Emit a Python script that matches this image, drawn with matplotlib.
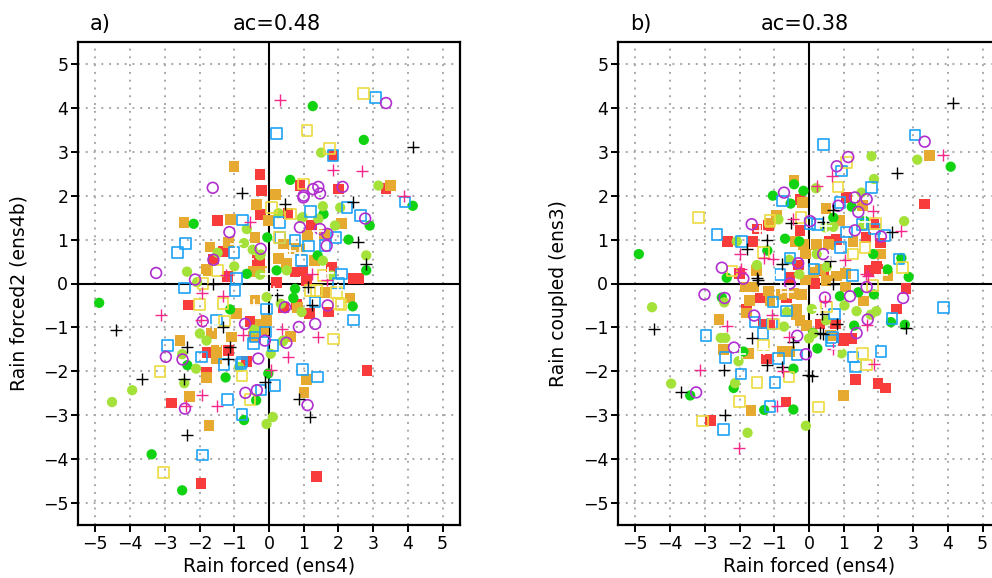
import matplotlib
matplotlib.use("Agg")
import matplotlib.pyplot as plt

# ---- data: (x, y) pairs per ensemble member ----
# panel a: Rain forced (ens4) vs Rain forced2 (ens4b)
A_RED = [(-0.26,2.48),(-0.21,2.11),(-0.24,1.57),(-1.48,1.43),(-1.32,0.73),(-1.60,0.54),(-0.28,0.48),(-1.19,0.16),
         (1.84,2.91),(0.89,2.23),(2.00,2.15),(3.37,2.17),(1.23,1.32),(1.81,0.37),(2.43,0.11),(2.57,0.11),(0.96,0.30),
         (-2.31,-0.49),(-1.77,-1.58),(-1.17,-1.52),(-0.64,-1.77),(-1.80,-2.02),(-2.80,-2.72),(-1.96,-4.55),(1.16,-0.69),
         (1.71,-0.65),(2.82,-1.98),(1.37,-4.39),(0.55,1.60),(-0.34,0.52),(0.75,0.26),(0.22,0.03),(1.09,0.07),
         (0.41,-0.54),(0.80,-0.48),(-0.55,-0.87)]
A_GOLD = [(-1.01,2.66),(-0.35,1.80),(-2.45,1.39),(-1.10,1.46),(-1.70,0.83),(-1.17,0.94),(-0.40,1.05),(-1.76,0.30),
          (-0.45,0.28),(-0.20,0.28),(3.50,2.23),(0.18,2.02),(2.09,1.37),(1.59,1.11),(1.11,1.09),(0.41,0.90),(1.30,0.52),
          (0.51,0.45),(0.28,0.57),(0.89,0.77),(-1.65,-1.14),(-2.56,-1.30),(-1.51,-1.52),(-1.51,-1.70),(-1.80,-2.14),
          (-2.28,-2.58),(-1.73,-3.24),(0.83,-0.54),(0.61,-1.20),(2.33,-0.33),(1.61,-0.20),(1.09,-2.18),(1.01,-2.49),
          (-0.02,1.43),(0.70,0.79),(-1.80,0.33),(-0.93,-0.69),(-0.40,-0.39),(-0.26,-0.92),(-0.07,-0.84),(-0.16,-1.05),
          (-0.45,-1.20),(-1.08,-1.22)]
A_GREEN = [(-2.17,1.36),(-0.64,0.22),(1.26,4.04),(2.73,3.27),(0.61,2.36),(4.14,1.77),(2.90,1.32),(1.57,1.58),
           (2.29,1.00),(2.80,0.30),(1.40,0.64),(-4.89,-0.44),(-1.12,-0.59),(-2.35,-1.86),(-1.25,-2.14),(-0.37,-2.66),
           (-0.72,-3.11),(-3.38,-3.89),(-2.50,-4.71),(2.41,-0.52),(0.70,-0.33),(-0.05,1.05),(0.22,0.30),(0.75,-0.12),
           (-0.02,-2.05)]
A_LIME = [(-1.48,0.70),(-0.72,0.92),(-0.47,0.77),(-0.24,0.66),(-2.36,0.27),(-1.00,0.39),(-2.07,0.03),(1.50,2.98),
          (3.15,2.23),(2.05,1.73),(0.27,1.60),(1.55,1.76),(0.97,1.51),(1.42,1.47),(1.90,1.32),(2.80,0.64),(1.55,0.52),
          (0.51,0.30),(-1.99,-1.14),(-2.50,-1.61),(-2.10,-1.94),(-3.94,-2.43),(-4.52,-2.70),(-2.44,-2.27),(-0.07,-3.20),
          (0.39,-1.32),(0.05,-1.60),(0.34,-0.46),(0.11,-3.04),(0.94,1.49),(-0.64,1.24),(-0.26,0.64),(1.80,0.18),
          (-0.26,0.20),(-0.07,-0.31),(0.94,-0.65),(-0.86,-1.90),(-0.43,-1.05),(0.41,-1.30),(-1.80,-1.30)]
A_BLUE = [(-0.76,1.45),(-2.41,0.91),(-2.64,0.71),(-1.01,0.70),(-2.44,-0.10),(0.22,3.42),(3.07,4.23),(3.92,1.86),
          (2.25,1.73),(2.64,1.55),(1.20,1.64),(1.93,1.05),(0.30,1.39),(0.75,0.98),(1.13,0.85),(1.61,0.86),(0.94,0.52),
          (2.09,0.22),(-0.98,-0.16),(-1.51,-0.83),(-2.93,-1.41),(-1.95,-1.67),(-1.29,-1.85),(-0.81,-1.83),(-1.20,-2.64),
          (-0.23,-2.43),(-0.78,-2.98),(-1.92,-3.91),(2.43,-0.83),(1.33,-0.42),(0.12,-1.41),(0.97,-1.96),(1.39,-2.13),
          (0.17,-2.32),(1.84,2.91),(0.32,1.05),(2.00,0.00),(-0.93,0.11),(-0.07,-0.58),(-0.45,-1.37),(-0.10,-1.10),
          (-0.40,-1.22),(-0.78,-1.79)]
A_YELLOW = [(-1.48,0.30),(-1.90,0.00),(2.72,4.33),(1.10,3.48),(1.74,3.08),(0.99,2.27),(0.62,1.58),(0.30,1.05),
            (1.56,0.18),(-2.00,-0.48),(-3.14,-2.00),(-0.78,-2.11),(-0.55,-2.64),(-3.04,-4.31),(1.85,-1.26),(2.07,-0.48),
            (1.95,-0.20),(0.08,1.73),(1.37,-0.16),(-1.32,-0.46),(-1.28,-0.85),(1.18,-0.16),(2.00,-0.46)]
A_PURPLE = [(-1.62,2.18),(-1.14,1.17),(-0.24,0.79),(-1.60,0.54),(-3.25,0.24),(-2.13,0.09),(3.37,4.11),(1.27,2.15),
            (1.42,2.20),(1.47,2.05),(1.00,2.00),(2.12,2.20),(2.77,1.48),(0.99,1.96),(0.89,1.28),(1.47,1.24),(1.68,1.13),
            (-1.91,-0.86),(-2.97,-1.67),(-2.49,-1.73),(-2.42,-2.85),(-0.68,-2.49),(0.86,-0.99),(1.33,-0.92),(0.50,-1.35),
            (1.69,-0.50),(1.11,-2.77),(1.66,0.86),(0.46,-0.54),(-0.31,-1.71),(-0.35,-2.43),(-0.12,-1.30),(-0.69,-0.92)]
A_BLACK = [(-0.78,2.06),(-1.60,-0.01),(4.16,3.10),(0.46,1.81),(2.43,1.85),(2.57,0.94),(2.80,0.44),(-4.42,-1.05),
           (-2.37,-1.45),(-1.19,-1.72),(-3.65,-2.18),(-2.45,-2.17),(-2.36,-3.44),(0.87,-2.62),(1.18,-3.05),(0.22,-0.27),
           (1.23,-0.50),(1.13,-0.08),(-0.12,-2.24),(-1.12,-1.45),(-1.32,-0.99)]
A_MAGENTA = [(-0.55,1.39),(0.32,4.18),(1.84,2.58),(2.69,2.57),(3.90,2.00),(1.23,0.22),(-3.12,-0.71),(-1.92,-0.21),
             (-1.33,-0.29),(-1.95,-0.84),(-2.40,-2.80),(-1.94,-2.54),(-1.49,-2.79),(1.42,-1.22),(0.56,-1.67),(0.05,-1.98),
             (1.66,0.07),(0.37,-1.03),(-0.74,-1.18),(-1.25,0.20)]
A_WHITE = [(0.61,0.75),(0.90,0.70),(-0.10,0.22),(-0.60,0.56),(-0.43,-0.50),(1.70,0.25),(2.00,-0.15),(-1.40,-1.30),
           (0.15,-0.20),(-0.95,0.90),(1.40,1.20),(-1.60,-0.95)]

# panel b: Rain forced (ens4) vs Rain coupled (ens3)
B_RED = [(3.33,1.81),(2.79,-0.11),(2.52,-0.58),(2.21,-2.38),(1.99,-2.27),(1.34,-2.19),(-0.66,-2.70),(-2.83,-3.12),
         (-1.22,-1.72),(-2.34,0.96),(-1.63,0.96),(-1.50,1.24),(-2.00,0.23),(-1.79,-0.58),(-1.31,-0.92),(-1.14,-0.92),
         (0.94,-1.24),(1.23,-1.25),(0.99,-1.29),(0.77,-0.92),(0.32,-0.92),(1.94,0.40),(1.73,0.29),(2.06,0.92),
         (1.64,1.04),(1.85,1.34),(1.08,1.95),(0.60,0.96),(0.80,1.00),(-0.26,1.92),(-0.26,1.21),(-0.55,0.13),
         (-0.31,0.42),(-1.41,-0.33),(-0.64,-0.33),(0.41,0.29),(0.17,0.00),(-1.17,1.32),(1.99,0.33)]
B_GOLD = [(3.48,2.92),(-0.43,2.34),(-0.19,1.84),(-0.93,1.56),(-1.12,1.38),(0.49,1.70),(0.89,1.44),(1.54,1.78),
          (1.27,0.96),(0.56,0.88),(0.22,0.88),(-0.40,0.96),(-0.16,0.88),(2.07,0.67),(2.26,0.17),(1.58,-0.40),
          (1.06,-0.08),(1.06,0.23),(0.80,0.17),(0.49,0.07),(0.34,0.32),(0.12,0.25),(-0.11,0.08),(-1.52,0.29),
          (-1.84,-0.08),(-1.60,-0.08),(-1.71,-0.38),(-1.17,-0.17),(-1.12,-0.38),(-0.79,-0.25),(-0.45,-0.23),
          (-0.21,-0.25),(-0.35,-0.58),(-0.37,-0.71),(-0.26,-0.84),(-0.07,-0.96),(-1.79,-0.67),(-2.59,-0.82),
          (-2.46,-1.50),(-1.74,-1.60),(-0.76,-1.55),(-0.55,-1.55),(0.62,-1.19),(0.99,-2.55),(-1.67,-2.90),(-0.11,0.67)]
B_GREEN = [(4.08,2.66),(-4.90,0.67),(-2.37,0.13),(-2.51,-0.32),(-3.42,-2.55),(-2.17,-2.38),(-1.89,-1.55),(-1.29,-2.88),
           (-0.45,-2.87),(-0.45,-1.94),(0.24,-1.48),(0.12,-1.13),(1.30,-0.96),(2.36,-0.88),(2.76,-0.94),(2.87,0.15),
           (2.66,0.58),(1.85,0.67),(1.61,1.42),(1.23,1.75),(-0.16,2.11),(-0.43,2.26),(-1.04,2.00),(-0.53,1.82),
           (-1.20,0.75),(0.89,-0.29),(1.87,-0.25),(-0.28,0.96),(2.26,0.32),(0.70,1.50),(-0.69,1.02),(1.42,-0.20)]
B_LIME = [(3.12,2.82),(1.80,2.90),(1.87,2.38),(2.74,1.42),(1.51,2.07),(0.20,2.17),(-4.52,-0.54),(-3.97,-2.28),
          (-1.77,-3.40),(-0.09,-3.24),(-2.13,-2.27),(-2.41,-1.24),(-2.54,-1.24),(-2.44,-0.43),(-2.03,-1.77),
          (0.94,-1.59),(1.78,-0.71),(1.94,-0.63),(1.02,-0.50),(1.37,-0.63),(-0.72,-0.98),(0.08,-0.58),(-0.57,0.54),
          (-0.28,0.21),(0.22,0.67),(0.51,0.38),(-1.50,0.42),(-2.08,0.96),(-0.88,1.46),(0.70,1.29),(0.00,-1.25),
          (0.12,-1.14),(0.49,-0.84),(-0.64,-0.65),(0.46,1.28),(1.56,1.32)]
B_BLUE = [(3.05,3.38),(0.41,3.16),(0.94,2.56),(1.80,2.19),(0.89,1.85),(-0.76,1.88),(-2.65,1.11),(-1.95,0.96),
          (-2.96,-1.19),(-2.41,-1.69),(-1.96,-2.06),(-0.98,-2.26),(-1.12,-2.80),(-2.46,-3.32),(-1.33,-1.14),
          (-1.07,-0.92),(-1.55,-0.88),(-0.88,-1.71),(-0.35,-1.63),(-0.64,-0.63),(-1.04,-0.42),(0.73,-0.69),
          (0.68,-1.23),(1.27,-1.67),(1.34,-1.90),(2.07,-1.55),(2.39,-0.80),(3.88,-0.55),(2.59,0.56),(2.17,1.09),
          (1.88,1.24),(1.53,1.34),(1.08,1.17),(0.91,0.82),(1.25,0.18),(0.03,1.37),(0.24,1.35),(-0.55,0.58),
          (-0.83,0.21),(0.15,0.33),(0.65,-1.30)]
B_YELLOW = [(-3.18,1.50),(0.84,2.20),(1.08,2.76),(-0.23,1.50),(-1.31,0.71),(-2.22,0.28),(2.69,0.36),(1.83,-0.04),
            (1.27,0.67),(1.61,0.82),(1.54,-1.60),(1.66,-1.86),(0.27,-2.81),(-0.57,-2.13),(-1.50,-2.26),(-2.00,-2.69),
            (-1.31,-1.40),(-3.06,-3.13),(-1.02,-0.92),(0.51,-0.54),(-1.12,1.43),(1.92,1.36)]
B_PURPLE = [(3.33,3.23),(1.13,2.88),(0.80,2.67),(-0.72,2.07),(-1.65,1.35),(-2.51,0.36),(-3.01,-0.25),(-3.25,-2.48),
            (-2.16,-1.46),(-0.34,-1.19),(-0.09,-1.61),(1.37,-1.13),(1.69,-0.82),(2.71,-0.33),(1.66,-0.08),(2.07,1.07),
            (1.32,1.96),(1.66,1.92),(1.42,1.63),(-0.55,0.00),(0.46,-0.32),(0.41,0.67),(-0.31,0.46),(0.03,1.42),
            (1.32,1.21),(1.18,-0.29),(-2.43,-0.33),(-1.58,-0.73),(-1.89,0.11),(0.84,1.77)]
B_BLACK = [(4.15,4.11),(2.52,2.52),(-4.47,-1.03),(-3.68,-2.46),(-2.42,-3.00),(-2.46,-1.98),(-1.63,-1.25),(-1.22,-1.86),
           (-0.77,-1.90),(-0.46,-1.34),(-0.02,-2.09),(0.08,-2.10),(0.32,-1.13),(0.36,-0.69),(0.80,-0.92),(2.79,-1.02),
           (2.40,1.17),(-1.22,1.00),(-1.79,0.79),(-1.50,0.13),(-0.79,0.44),(-0.52,1.38),(0.60,0.52),(0.70,1.67),
           (0.70,0.00),(-1.46,0.07),(0.41,1.39),(0.39,-1.14)]
B_MAGENTA = [(3.86,2.92),(2.66,1.19),(1.83,1.65),(0.65,2.44),(1.64,0.21),(1.66,-0.94),(1.87,-1.84),(0.70,-1.50),
             (-0.57,-1.21),(-0.76,-2.00),(-1.07,-0.71),(-2.01,-3.74),(-3.13,-1.96),(-2.37,-0.96),(-1.98,0.67),
             (-1.95,0.33),(-1.31,0.58),(-0.45,1.46),(0.22,2.21),(-0.93,-2.80),(-1.04,0.56),(-1.98,0.26),(1.70,0.18),
             (1.03,0.54),(0.46,-0.39)]
B_WHITE = [(0.50,1.30),(-0.80,-0.10),(0.60,0.65),(-1.00,0.20),(0.80,-1.50),(1.60,1.40),(-2.00,-1.60),(-0.60,-0.20),
           (0.30,-0.60),(-1.40,1.20),(2.10,0.20),(-1.30,-1.50)]

TICKS = [-5, -4, -3, -2, -1, 0, 1, 2, 3, 4, 5]

# marker styles, same order as the series lists
STYLES = [
    dict(marker='s', s=60, c='#f83c3c', edgecolors='none'),
    dict(marker='s', s=60, c='#e6aa30', edgecolors='none'),
    dict(marker='o', s=55, c='#12d312', edgecolors='none'),
    dict(marker='o', s=55, c='#a4e23a', edgecolors='none'),
    dict(marker='s', s=58, facecolors='none', edgecolors='#1ea2f4', linewidths=1.2),
    dict(marker='s', s=58, facecolors='none', edgecolors='#ecdc40', linewidths=1.2),
    dict(marker='o', s=60, facecolors='none', edgecolors='#b02ed0', linewidths=1.2),
    dict(marker='+', s=80, c='black', linewidths=1.0),
    dict(marker='+', s=80, c='#f5288a', linewidths=1.0),
    dict(marker='+', s=80, c='white', linewidths=1.2),
]


def panel(ax, series, tag, ac, ylabel, title_x):
    ax.set_xlim(-5.5, 5.5)
    ax.set_ylim(-5.5, 5.5)
    ax.set_xticks(TICKS)
    ax.set_yticks(TICKS)
    ax.set_axisbelow(True)
    ax.grid(True, color='#a8a8a8', linestyle=(0, (1, 3)), linewidth=1.4)
    ax.axhline(0, color='black', lw=1.5, zorder=1.5)
    ax.axvline(0, color='black', lw=1.5, zorder=1.5)
    for pts, st in zip(series, STYLES):
        xs = [p[0] for p in pts]
        ys = [p[1] for p in pts]
        ax.scatter(xs, ys, zorder=3, **st)
    for sp in ax.spines.values():
        sp.set_linewidth(1.6)
    ax.tick_params(direction='out', length=5, width=1.4, labelsize=12.5, pad=2)
    ax.set_xlabel('Rain forced (ens4)', fontsize=13.5)
    ax.set_ylabel(ylabel, fontsize=13.5)
    ax.xaxis.set_label_coords(0.5, -0.066)
    ax.yaxis.set_label_coords(-0.13, 0.48)
    ax.text(0.031, 1.025, tag, transform=ax.transAxes, fontsize=15, va='baseline')
    ax.text(title_x, 1.025, ac, transform=ax.transAxes, fontsize=15, va='baseline', ha='center')


fig = plt.figure(figsize=(9.92, 5.78), dpi=100)
ax_a = fig.add_axes([78/992, 53/578, 382/992, 483/578])
ax_b = fig.add_axes([618/992, 53/578, 382/992, 483/578])

panel(ax_a, [A_RED, A_GOLD, A_GREEN, A_LIME, A_BLUE, A_YELLOW, A_PURPLE, A_BLACK, A_MAGENTA, A_WHITE],
      'a)', 'ac=0.48', 'Rain forced2 (ens4b)', 0.521)
panel(ax_b, [B_RED, B_GOLD, B_GREEN, B_LIME, B_BLUE, B_YELLOW, B_PURPLE, B_BLACK, B_MAGENTA, B_WHITE],
      'b)', 'ac=0.38', 'Rain coupled (ens3)', 0.49)

fig.savefig('out.png', dpi=100)
